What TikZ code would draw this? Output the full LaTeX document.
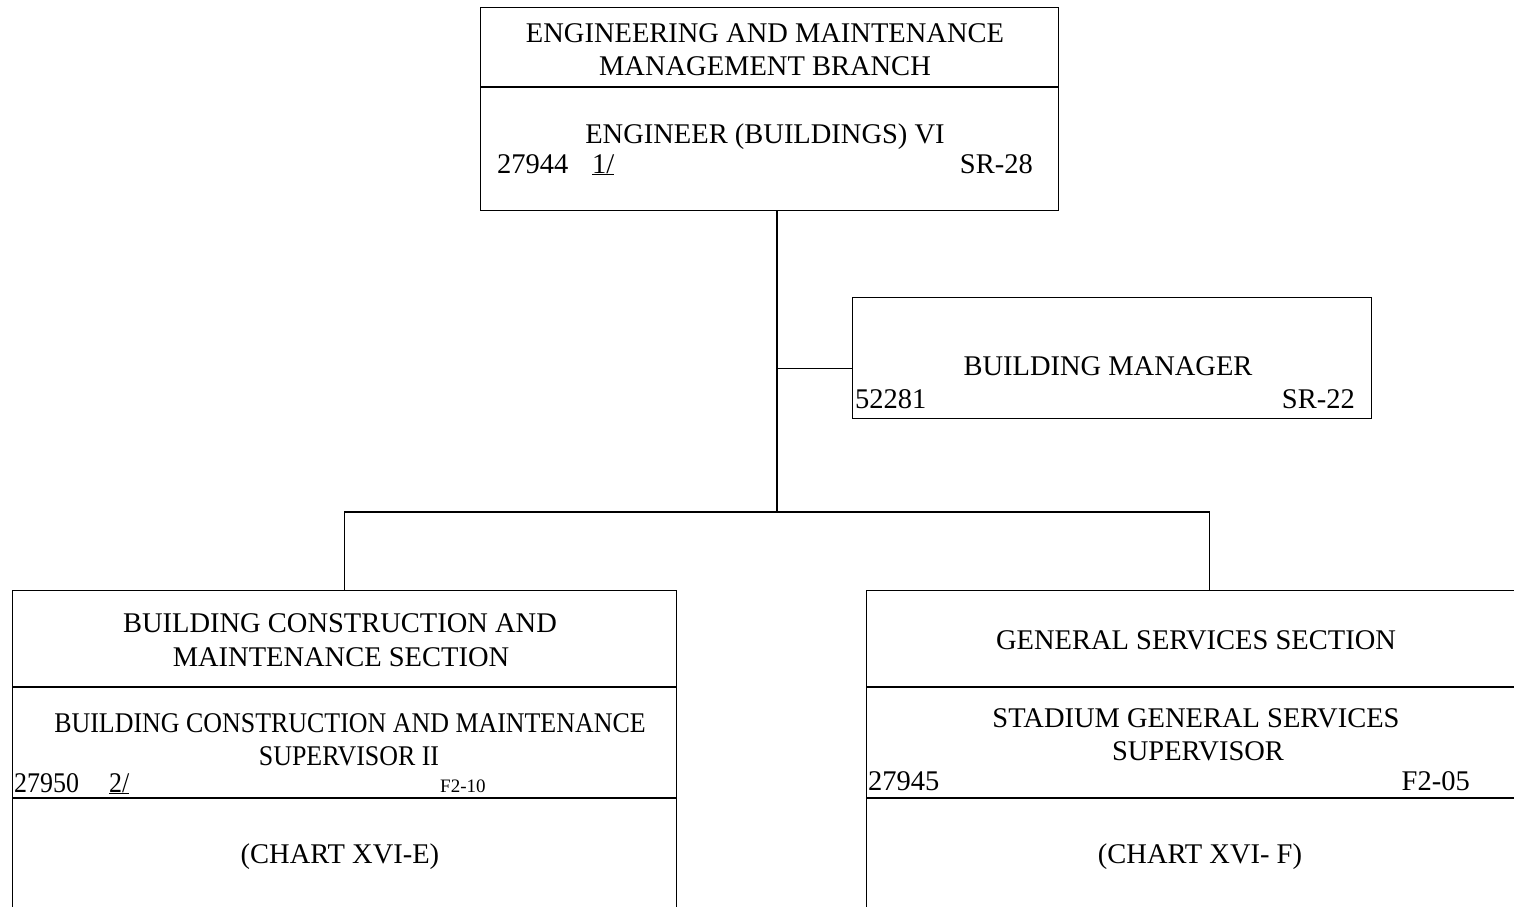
\documentclass[tikz,border=0pt]{standalone}
\usepackage{fontspec}
\setmainfont{Liberation Serif}
\begin{document}
\begin{tikzpicture}[x=1pt,y=-1pt,
  box/.style={draw,line width=1.4pt,inner sep=0pt,anchor=north west},
  rule/.style={line width=1.4pt},
  conn/.style={line width=1.4pt},
  txt/.style={inner sep=0pt,anchor=base,font=\fontsize{28.5}{32}\selectfont},
  txtl/.style={txt,anchor=base west},
  txtr/.style={txt,anchor=base east},
  small/.style={inner sep=0pt,anchor=base west,font=\fontsize{19}{22}\selectfont}]
\useasboundingbox (0,0) rectangle (1514,906);
\clip (0,0) rectangle (1514,906);
% boxes
\node[box,minimum width=578pt,minimum height=203pt] (top) at (480,7) {};
\node[box,minimum width=519pt,minimum height=121pt] (bm) at (852,297) {};
\node[box,minimum width=664pt,minimum height=380pt] (lb) at (12,590) {};
\node[box,minimum width=686pt,minimum height=380pt] (rb) at (866,590) {};
% dividers
\draw[rule] (top.west |- 0,87) -- (top.east |- 0,87);
\draw[rule] (lb.west |- 0,687) -- (lb.east |- 0,687);
\draw[rule] (lb.west |- 0,798) -- (lb.east |- 0,798);
\draw[rule] (rb.west |- 0,687) -- (rb.east |- 0,687);
\draw[rule] (rb.west |- 0,798) -- (rb.east |- 0,798);
% texts top
\node[txt] (t1) at (765,42) {ENGINEERING AND MAINTENANCE};
\node[txt] (t2) at (765,75) {MANAGEMENT BRANCH};
\node[txt] (t3) at (765,143) {ENGINEER (BUILDINGS) VI};
\node[txtl] (t4) at (497,173) {27944};
\node[txtl] (t5) at (592,173) {\underline{1/}};
\node[txtr] (t6) at (1033,173) {SR-28};
% building manager
\node[txt] (b1) at (1108,375) {BUILDING MANAGER};
\node[txtl] (b2) at (855,408) {52281};
\node[txtr] (b3) at (1355,408) {SR-22};
% left box
\node[txt] (l1) at (340,632) {BUILDING CONSTRUCTION AND};
\node[txt] (l2) at (341,666) {MAINTENANCE SECTION};
\node[txt] (l3) at (350,732) {\scalebox{0.91}[1]{BUILDING CONSTRUCTION AND MAINTENANCE}};
\node[txt] (l4) at (349,765) {\scalebox{0.91}[1]{SUPERVISOR II}};
\node[txtl] (l5) at (14,792) {\scalebox{0.91}[1]{27950}};
\node[txtl] (l6) at (109,792) {\scalebox{0.91}[1]{\underline{2/}}};
\node[small] (l7) at (440,792) {F2-10};
\node[txt] (l8) at (340,863) {(CHART XVI-E)};
% right box
\node[txt] (r1) at (1196,649) {GENERAL SERVICES SECTION};
\node[txt] (r2) at (1196,727) {STADIUM GENERAL SERVICES};
\node[txt] (r3) at (1198,760) {SUPERVISOR};
\node[txtl] (r4) at (868,790) {27945};
\node[txtr] (r5) at (1470,790) {F2-05};
\node[txt] (r6) at (1200,863) {(CHART XVI- F)};
% connectors
\coordinate (bus) at (777,512);
\draw[conn] (top.south -| bus) -- (bus);
\draw[conn] ([yshift=-10.5pt]bm.west) -- ([yshift=-10.5pt]bm.west -| bus);
\draw[conn] (lb.north) |- (bus) -| (rb.north);
\end{tikzpicture}
\end{document}
